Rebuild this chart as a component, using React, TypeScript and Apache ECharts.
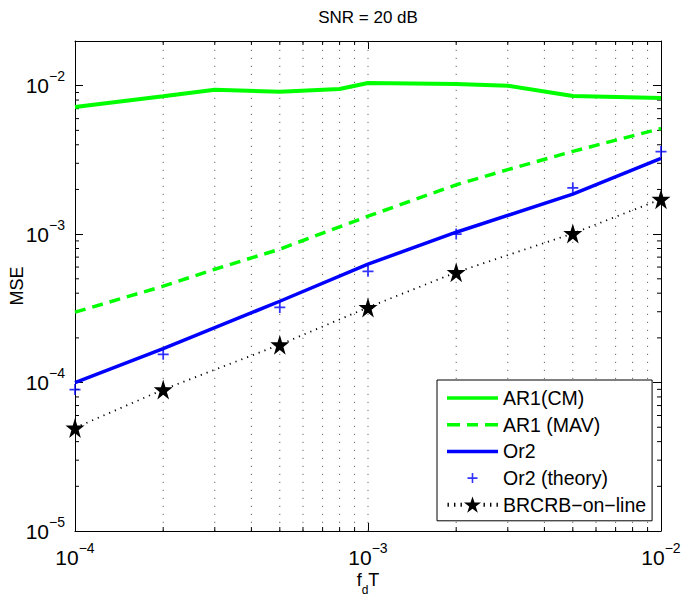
import React, { useEffect, useRef } from 'react';
import * as echarts from 'echarts';

// ---- data ----
const FD_T_CM = [1e-4, 2e-4, 3e-4, 5e-4, 8e-4, 1e-3, 2e-3, 3e-3, 5e-3, 1e-2];
const AR1_CM = [7.18e-3, 8.48e-3, 9.4e-3, 9.11e-3, 9.5e-3, 1.043e-2, 1.027e-2, 1.0e-2, 8.53e-3, 8.27e-3];

const FD_T_MAV = [1e-4, 2e-4, 3e-4, 5e-4, 1e-3, 2e-3, 3e-3, 5e-3, 1e-2];
const AR1_MAV = [2.98e-4, 4.46e-4, 5.8e-4, 7.92e-4, 1.32e-3, 2.15e-3, 2.72e-3, 3.61e-3, 5.15e-3];

const FD_T_PTS = [1e-4, 2e-4, 5e-4, 1e-3, 2e-3, 5e-3, 1e-2];
const OR2 = [1.0e-4, 1.69e-4, 3.53e-4, 6.28e-4, 1.03e-3, 1.86e-3, 3.24e-3];
const OR2_THEORY = [8.97e-5, 1.55e-4, 3.21e-4, 5.62e-4, 1.0e-3, 2.05e-3, 3.6e-3];
const BRCRB = [4.95e-5, 8.97e-5, 1.8e-4, 3.21e-4, 5.53e-4, 1.01e-3, 1.72e-3];

const SERIES_NAMES = ['AR1(CM)', 'AR1 (MAV)', 'Or2', 'Or2 (theory)', 'BRCRB\u2212on\u2212line'];

// axis structure
const X_MIN = 1e-4;
const X_MAX = 1e-2;
const Y_MIN = 1e-5;
const Y_MAX = 2e-2;
const MINOR_MULTS = [2, 3, 4, 5, 6, 7, 8, 9];
const X_DECADES = [1e-4, 1e-3];
const Y_DECADES = [1e-5, 1e-4, 1e-3];
const X_GRID_MAJOR = [1e-3];

const FONT = '"Liberation Sans", Arial, Helvetica, sans-serif';

function starPath(cx: number, cy: number, R: number, r: number) {
  let d = '';
  for (let i = 0; i < 10; i++) {
    const a = -Math.PI / 2 + (i * Math.PI) / 5;
    const rad = i % 2 === 0 ? R : r;
    d += (i === 0 ? 'M' : 'L') + (cx + rad * Math.cos(a)).toFixed(2) + ',' + (cy + rad * Math.sin(a)).toFixed(2);
  }
  return d + 'Z';
}

const STAR_SYMBOL = 'path://' + starPath(10, 10, 10, 3.82);
const PLUS_SYMBOL = 'path://M0,4.2h10v1.6h-10zM4.2,0h1.6v10h-1.6z';

const ICON_SOLID = 'path://M0,0M51,18M0,7.25h51v3.5h-51z';
const ICON_DASHED = 'path://M0,0M51,18M0,7.25h13v3.5h-13zM20,7.25h11v3.5h-11zM38,7.25h13v3.5h-13z';
const ICON_PLUS = 'path://M0,0M51,18M20.5,8.2h10v1.6h-10zM24.7,4h1.6v10h-1.6z';
const ICON_STAR =
  'path://M0,0M51,18' +
  starPath(25.5, 9.6, 9, 3.44) +
  'M0.5,7h1.4v4h-1.4zM7,7h1.4v4h-1.4zM13.5,7h1.4v4h-1.4zM36.5,7h1.4v4h-1.4zM43,7h1.4v4h-1.4zM49.5,7h1.4v4h-1.4z';

const fmtPow = (v: number) => {
  const e = Math.log10(v);
  const r = Math.round(e);
  if (Math.abs(e - r) > 1e-6) return '';
  return `{b|10}{s|\u2212${Math.abs(r)}}`;
};

const labelRich = {
  b: { fontSize: 21, lineHeight: 33, fontFamily: FONT, color: '#000' },
  s: { fontSize: 14, lineHeight: 14, verticalAlign: 'top', fontFamily: FONT, color: '#000' },
};

export default function App() {
  const ref = useRef<HTMLDivElement>(null);

  useEffect(() => {
    if (!ref.current) return;
    const chart = echarts.init(ref.current, null, { renderer: 'svg' });

    const xMinor = X_DECADES.flatMap((d) => MINOR_MULTS.map((m) => m * d));
    const yMinor = Y_DECADES.flatMap((d) => MINOR_MULTS.map((m) => m * d));
    const xGridVals = xMinor.concat(X_GRID_MAJOR);

    const baseAxis = {
      axisLine: { show: true, onZero: false, lineStyle: { color: '#000', width: 1 } },
      axisTick: { show: true, inside: true, length: 8, lineStyle: { color: '#000', width: 1 } },
      splitLine: { show: false },
      minorTick: { show: false },
      minorSplitLine: { show: false },
    };

    const option: any = {
      animation: false,
      backgroundColor: '#fff',
      title: {
        text: 'SNR = 20 dB',
        left: 368,
        textAlign: 'center',
        top: 9,
        padding: 0,
        textStyle: { fontSize: 17, fontWeight: 'normal', color: '#000', fontFamily: FONT },
      },
      grid: { left: 75, right: 20, top: 41, bottom: 69, containLabel: false, outerBoundsMode: 'none' },
      xAxis: [
        {
          ...baseAxis,
          type: 'log',
          logBase: 10,
          min: X_MIN,
          max: X_MAX,
          position: 'bottom',
          axisLabel: {
            show: true,
            margin: 10,
            formatter: fmtPow,
            rich: labelRich,
            fontSize: 21,
            fontFamily: FONT,
            color: '#000',
            showMinLabel: true,
            showMaxLabel: true,
          },
          name: '{n|f}{d|d}{n|T}',
          nameLocation: 'middle',
          nameGap: 33,
          nameMoveOverlap: false,
          nameTextStyle: {
            rich: {
              n: { fontSize: 18, lineHeight: 32, fontFamily: FONT, color: '#000' },
              d: { fontSize: 12, lineHeight: 12, verticalAlign: 'bottom', fontFamily: FONT, color: '#000' },
            },
          },
        },
        {
          ...baseAxis,
          type: 'log',
          logBase: 10,
          min: X_MIN,
          max: X_MAX,
          position: 'top',
          axisLabel: { show: false },
        },
      ],
      yAxis: [
        {
          ...baseAxis,
          type: 'log',
          logBase: 10,
          min: Y_MIN,
          max: Y_MAX,
          position: 'left',
          axisLabel: {
            show: true,
            margin: 10,
            formatter: fmtPow,
            rich: labelRich,
            fontSize: 21,
            fontFamily: FONT,
            color: '#000',
            showMinLabel: true,
            showMaxLabel: true,
          },
          name: 'MSE',
          nameLocation: 'middle',
          nameRotate: 90,
          nameGap: 49,
          nameMoveOverlap: false,
          nameTextStyle: { fontSize: 18, fontFamily: FONT, color: '#000' },
        },
        {
          ...baseAxis,
          type: 'log',
          logBase: 10,
          min: Y_MIN,
          max: Y_MAX,
          position: 'right',
          axisLabel: { show: false },
        },
      ],
      legend: {
        orient: 'vertical',
        left: 437,
        top: 380,
        backgroundColor: '#fff',
        borderColor: '#000',
        borderWidth: 1,
        borderRadius: 0,
        padding: [8, 6, 6, 10],
        itemWidth: 51,
        itemHeight: 18,
        itemGap: 6.7,
        symbolKeepAspect: true,
        selectedMode: false,
        itemStyle: { borderWidth: 0 },
        textStyle: { fontSize: 19.5, lineHeight: 18, color: '#000', fontFamily: FONT },
        data: [
          { name: SERIES_NAMES[0], icon: ICON_SOLID },
          { name: SERIES_NAMES[1], icon: ICON_DASHED },
          { name: SERIES_NAMES[2], icon: ICON_SOLID },
          { name: SERIES_NAMES[3], icon: ICON_PLUS },
          { name: SERIES_NAMES[4], icon: ICON_STAR },
        ],
      },
      series: [
        {
          type: 'custom',
          name: 'xgrid',
          xAxisIndex: 0,
          yAxisIndex: 0,
          z: 1,
          silent: true,
          clip: false,
          data: xGridVals.map((v) => [v, 1e-3]),
          encode: { x: 0, y: 1 },
          renderItem: (params: any, api: any) => {
            const v = api.value(0);
            const p = api.coord([v, 1e-3]);
            const cs = params.coordSys;
            const x = p[0];
            const top = cs.y;
            const bottom = cs.y + cs.height;
            const isMinor = X_GRID_MAJOR.indexOf(v) < 0;
            const children: any[] = [
              {
                type: 'line',
                shape: { x1: x, y1: bottom, x2: x, y2: top },
                style: { stroke: '#666', lineWidth: 1, lineDash: [1.2, 6.8] },
              },
            ];
            if (isMinor) {
              children.push(
                { type: 'line', shape: { x1: x, y1: bottom, x2: x, y2: bottom - 4 }, style: { stroke: '#000', lineWidth: 1 } },
                { type: 'line', shape: { x1: x, y1: top, x2: x, y2: top + 4 }, style: { stroke: '#000', lineWidth: 1 } }
              );
            }
            return { type: 'group', children };
          },
        },
        {
          type: 'custom',
          name: 'yminor',
          xAxisIndex: 0,
          yAxisIndex: 0,
          z: 1,
          silent: true,
          clip: false,
          data: yMinor.map((v) => [1e-3, v]),
          encode: { x: 0, y: 1 },
          renderItem: (params: any, api: any) => {
            const v = api.value(1);
            const p = api.coord([1e-3, v]);
            const cs = params.coordSys;
            const y = p[1];
            const left = cs.x;
            const right = cs.x + cs.width;
            return {
              type: 'group',
              children: [
                { type: 'line', shape: { x1: left, y1: y, x2: left + 4, y2: y }, style: { stroke: '#000', lineWidth: 1 } },
                { type: 'line', shape: { x1: right, y1: y, x2: right - 4, y2: y }, style: { stroke: '#000', lineWidth: 1 } },
              ],
            };
          },
        },
        {
          type: 'line',
          name: SERIES_NAMES[0],
          data: FD_T_CM.map((x, i) => [x, AR1_CM[i]]),
          symbol: 'none',
          z: 3,
          lineStyle: { color: '#00ff00', width: 4 },
          itemStyle: { color: '#00ff00' },
        },
        {
          type: 'line',
          name: SERIES_NAMES[1],
          data: FD_T_MAV.map((x, i) => [x, AR1_MAV[i]]),
          symbol: 'none',
          z: 3,
          lineStyle: { color: '#00ff00', width: 3.5, type: [11, 7] },
          itemStyle: { color: '#00ff00' },
        },
        {
          type: 'line',
          name: SERIES_NAMES[2],
          data: FD_T_PTS.map((x, i) => [x, OR2[i]]),
          symbol: 'none',
          z: 3,
          lineStyle: { color: '#0000ff', width: 3.5 },
          itemStyle: { color: '#0000ff' },
        },
        {
          type: 'scatter',
          name: SERIES_NAMES[3],
          data: FD_T_PTS.map((x, i) => [x, OR2_THEORY[i]]),
          symbol: PLUS_SYMBOL,
          symbolSize: 11,
          z: 4,
          itemStyle: { color: '#0000ff' },
        },
        {
          type: 'line',
          name: SERIES_NAMES[4],
          data: FD_T_PTS.map((x, i) => [x, BRCRB[i]]),
          symbol: STAR_SYMBOL,
          symbolSize: [19, 20],
          showSymbol: true,
          z: 4,
          lineStyle: { color: '#000', width: 1.8, type: [1.2, 5] },
          itemStyle: { color: '#000' },
        },
      ],
    };

    chart.setOption(option);
    return () => chart.dispose();
  }, []);

  return (
    <div
      ref={ref}
      style={{ position: 'absolute', left: 0, top: 0, width: 681, height: 600, background: '#fff' }}
    />
  );
}
